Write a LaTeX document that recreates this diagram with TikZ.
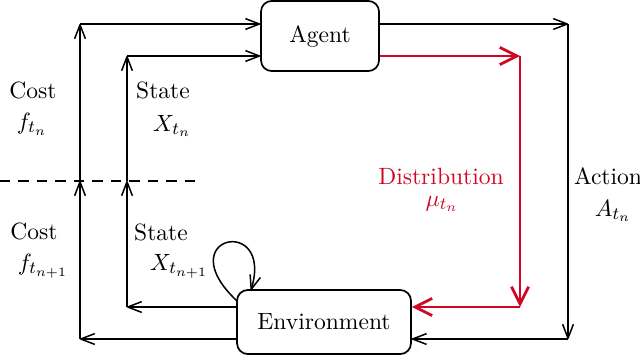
\documentclass[tikz,border=0pt,11pt]{standalone}
\usetikzlibrary{arrows.meta}
\definecolor{myred}{RGB}{208,8,38}
\begin{document}
\begin{tikzpicture}[x=0.4651pt,y=-0.4651pt,
  box/.style={draw,line width=0.8pt,rounded corners=5pt,inner sep=0pt},
  conn/.style={line width=0.7pt,-{Straight Barb[length=6.5pt,width=5pt,line join=round]}},
  redconn/.style={line width=1.3pt,draw=myred,-{Straight Barb[length=8pt,width=8pt]}},
  lab/.style={inner sep=0pt}]
\useasboundingbox (0,0) rectangle (640,356);
\node[box,minimum width=54.9pt,minimum height=32.6pt] (agent) at (320,36) {Agent};
\node[box,minimum width=80.9pt,minimum height=29.8pt] (env) at (324,322) {Environment};
% corner coordinates
\coordinate (ob) at (80,339);
\coordinate (om) at (80,181);
\coordinate (ot) at (80,24);
\coordinate (ib) at (127,307);
\coordinate (im) at (127,181);
\coordinate (it) at (127,56);
\coordinate (rt) at (568,24);
\coordinate (rb) at (568,339);
\coordinate (dt) at (520,56);
\coordinate (db) at (520,307);
\coordinate (dl) at (0,181);
\coordinate (dr) at (200,181);
% dashed separator
\draw[line width=0.7pt,dash pattern=on 4.8pt off 3.8pt] (dl) -- (dr);
% cost loop (outer)
\draw[conn] (env.west |- ob) -- (ob);
\draw[conn] (ob) -- (om);
\draw[conn] (om) -- (ot);
\draw[conn] (ot) -- (agent.west |- ot);
% state loop (inner)
\draw[conn] (env.west |- ib) -- (ib);
\draw[conn] (ib) -- (im);
\draw[conn] (im) -- (it);
\draw[conn] (it) -- (agent.west |- it);
% action
\draw[conn] (agent.east |- rt) -- (rt);
\draw[conn] (rt) -- (rb);
\draw[conn] (rb) -- (env.east |- rb);
% distribution
\draw[redconn] (agent.east |- dt) -- (dt);
\draw[redconn] (dt) -- (db);
\draw[redconn] (db) -- (env.east |- db);
% self loop
\coordinate (ls) at (237,301);
\coordinate (le) at (251,290);
\draw[conn] (ls) .. controls (168,236) and (274,214) .. (le);
% labels
\node[lab] (c1) at (33,90) {Cost};
\node[lab] (f1) at (32,124) {$f_{t_n}$};
\node[lab] (s1) at (163,90) {State};
\node[lab] (x1) at (172,126) {$X_{t_n}$};
\node[lab] (c2) at (34,231) {Cost};
\node[lab] (f2) at (43,266) {$f_{t_{n+1}}$};
\node[lab] (s2) at (161,232) {State};
\node[lab] (x2) at (179,266) {$X_{t_{n+1}}$};
\node[lab,text=myred] (d1) at (441,176) {Distribution};
\node[lab,text=myred] (m1) at (442,204) {$\mu_{t_n}$};
\node[lab] (a1) at (608,176) {Action};
\node[lab] (a2) at (613,211) {$A_{t_n}$};
\end{tikzpicture}
\end{document}
